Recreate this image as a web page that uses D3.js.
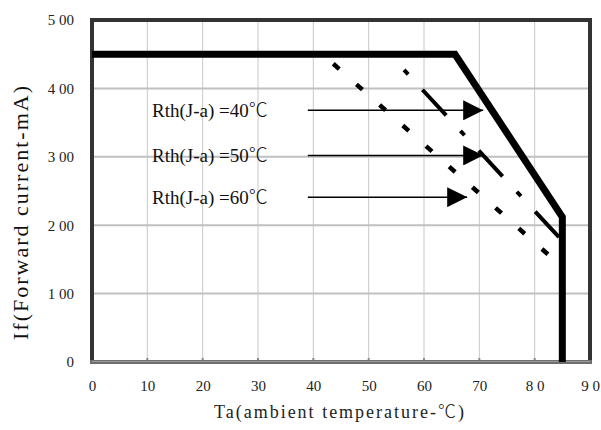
<!DOCTYPE html>
<html lang="en">
<head>
<meta charset="UTF-8">
<title>Forward current derating</title>
<script src="https://d3js.org/d3.v7.min.js"></script>
<style>
    body { margin: 0; background: #fff; }
    svg { display: block; font-family: "Liberation Serif", serif; }
    .deg { font-family: "Noto Sans CJK JP", sans-serif; font-weight: 300; }
</style>
</head>
<body>
<svg id="chart" width="601" height="430"></svg>
<script>
    // ambient temperature (C) vs max forward current (mA)
    const mainCurve = [[0, 450], [65.6, 450], [85, 212], [85, 0]];
    const rth60Curve = [[43.6, 436], [82.6, 156]];
    const rth50Curve = [[56.4, 427], [84.9, 178]];

    // arrows: label, start x, tip x, y value
    const arrowLabels = ["Rth(J-a) =40", "Rth(J-a) =50", "Rth(J-a) =60"];
    const arrowY = [368, 302, 241];
    const arrowStart = [39, 39, 39];
    const arrowTip = [70.7, 70.7, 67.8];

    const xTicks = [0, 10, 20, 30, 40, 50, 60, 70, 80, 90];
    const xTickLabels = ["0", "10", "20", "30", "40", "50", "60", "70", "8 0", "9 0"];
    const yTicks = [0, 100, 200, 300, 400, 500];
    const yTickLabels = ["0", "1 00", "2 00", "3 00", "4 00", "5 00"];

    const svg = d3.select("#chart");
    const m = { left: 92, right: 590, top: 20, bottom: 362 };

    const x = d3.scaleLinear().domain([0, 90]).range([m.left, m.right]);
    const y = d3.scaleLinear().domain([0, 500]).range([m.bottom, m.top]);

    // grid
    svg.append("g").selectAll("line")
        .data(xTicks.slice(1, -1))
        .join("line")
        .attr("x1", d => x(d)).attr("x2", d => x(d))
        .attr("y1", m.top).attr("y2", m.bottom)
        .attr("stroke", "#c8c8c8").attr("stroke-width", 1);

    svg.append("g").selectAll("line")
        .data(yTicks.slice(1, -1))
        .join("line")
        .attr("x1", m.left).attr("x2", m.right)
        .attr("y1", d => y(d)).attr("y2", d => y(d))
        .attr("stroke", "#c0c0c0").attr("stroke-width", 2);

    // axes (labels only)
    const xAxis = svg.append("g")
        .attr("transform", `translate(0,${m.bottom + 15})`)
        .call(d3.axisBottom(x).tickValues(xTicks)
            .tickFormat((d, i) => xTickLabels[i]).tickSize(0))
        .attr("font-family", "Liberation Serif")
        .attr("font-size", 15);
    xAxis.select(".domain").remove();
    xAxis.selectAll("text").attr("dy", "0.71em").attr("fill", "#222");

    const yAxis = svg.append("g")
        .attr("transform", `translate(${m.left - 15},0)`)
        .call(d3.axisLeft(y).tickValues(yTicks)
            .tickFormat((d, i) => yTickLabels[i]).tickSize(0))
        .attr("font-family", "Liberation Serif")
        .attr("font-size", 15);
    yAxis.select(".domain").remove();
    yAxis.selectAll("text").attr("fill", "#222");

    // small tick bumps on bottom axis
    svg.append("g").selectAll("line")
        .data(xTicks.slice(1, -1))
        .join("line")
        .attr("x1", d => x(d)).attr("x2", d => x(d))
        .attr("y1", m.bottom - 4).attr("y2", m.bottom)
        .attr("stroke", "#888").attr("stroke-width", 2);

    // frame
    svg.append("path")
        .attr("d", `M${m.left},${m.bottom} V${m.top} H${m.right} V${m.bottom}`)
        .attr("fill", "none").attr("stroke", "#333").attr("stroke-width", 4);
    svg.append("line")
        .attr("x1", m.left - 2).attr("x2", m.right + 2)
        .attr("y1", m.bottom).attr("y2", m.bottom)
        .attr("stroke", "#6e6e6e").attr("stroke-width", 4);
    svg.append("line")
        .attr("x1", m.left).attr("x2", m.right)
        .attr("y1", m.bottom - 0.5).attr("y2", m.bottom - 0.5)
        .attr("stroke", "#999").attr("stroke-width", 1);

    const line = d3.line().x(d => x(d[0])).y(d => y(d[1]));

    svg.append("path").datum(rth60Curve)
        .attr("d", line).attr("fill", "none")
        .attr("stroke", "#000").attr("stroke-width", 4.5)
        .attr("stroke-dasharray", "8,23");

    svg.append("path").datum(rth50Curve)
        .attr("d", line).attr("fill", "none")
        .attr("stroke", "#000").attr("stroke-width", 4)
        .attr("stroke-dasharray", "6,21,35,21");

    svg.append("path").datum(mainCurve)
        .attr("d", line).attr("fill", "none")
        .attr("stroke", "#000").attr("stroke-width", 7)
        .attr("stroke-linejoin", "miter");

    // arrows
    svg.append("defs").append("marker")
        .attr("id", "head")
        .attr("viewBox", "0 0 20 20")
        .attr("refX", 20).attr("refY", 10)
        .attr("markerWidth", 20).attr("markerHeight", 20)
        .attr("markerUnits", "userSpaceOnUse")
        .attr("orient", "auto")
        .append("path").attr("d", "M0,0 L20,10 L0,20 Z").attr("fill", "#000");

    svg.append("g").selectAll("line")
        .data(arrowY)
        .join("line")
        .attr("x1", (d, i) => x(arrowStart[i]))
        .attr("x2", (d, i) => x(arrowTip[i]))
        .attr("y1", d => y(d)).attr("y2", d => y(d))
        .attr("stroke", "#000").attr("stroke-width", 1.5)
        .attr("marker-end", "url(#head)");

    const labels = svg.append("g").selectAll("text")
        .data(arrowLabels)
        .join("text")
        .attr("x", 152)
        .attr("y", (d, i) => y(arrowY[i]))
        .attr("dy", "0.35em")
        .attr("font-size", 19)
        .attr("fill", "#111")
        .text(d => d);
    labels.append("tspan").attr("class", "deg").text("\u2103");

    // axis titles
    const xTitle = svg.append("text")
        .attr("x", 340).attr("y", 418)
        .attr("text-anchor", "middle")
        .attr("font-size", 18)
        .attr("letter-spacing", 2)
        .attr("fill", "#222")
        .text("Ta(ambient temperature-");
    xTitle.append("tspan").attr("class", "deg").text("\u2103");
    xTitle.append("tspan").text(")");

    svg.append("text")
        .attr("transform", "translate(28,212) rotate(-90)")
        .attr("text-anchor", "middle")
        .attr("font-size", 22)
        .attr("letter-spacing", 2)
        .attr("fill", "#111")
        .text("If(Forward current-mA)");
</script>
</body>
</html>
